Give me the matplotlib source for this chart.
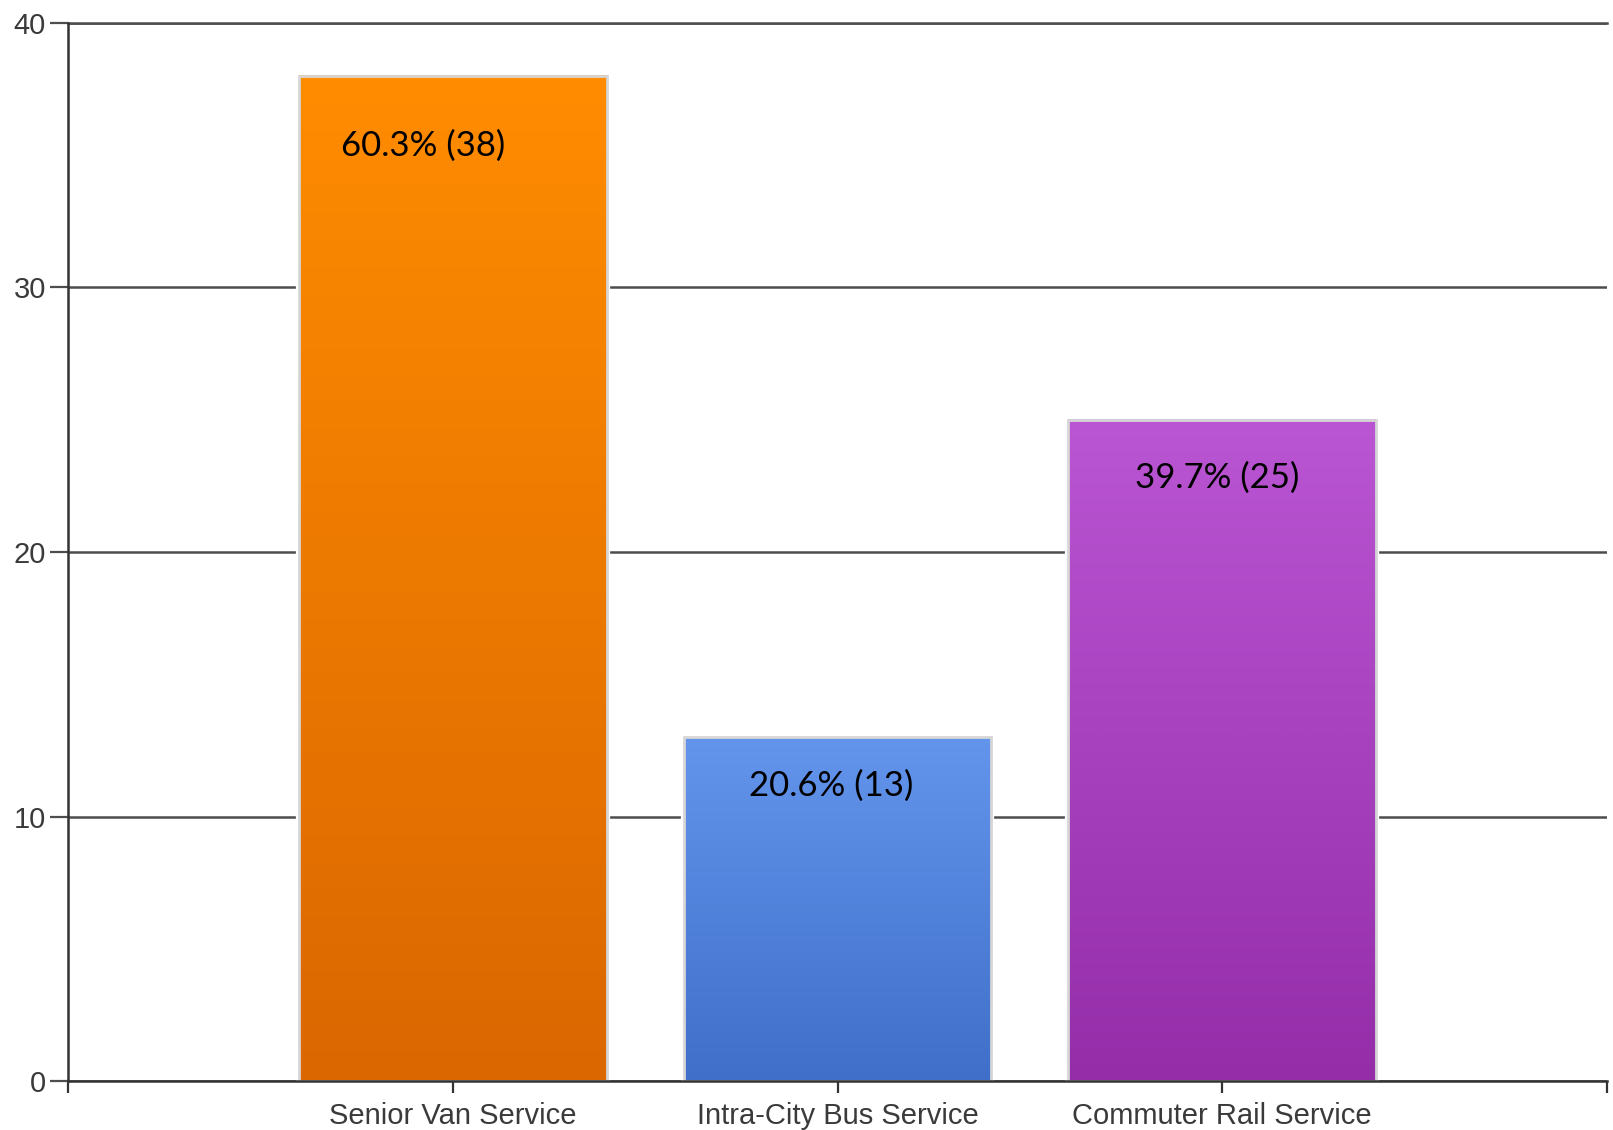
import numpy as np
import matplotlib
matplotlib.use("Agg")
import matplotlib.pyplot as plt
from matplotlib.colors import to_rgb

# Survey responses by transit service
categories = ["Senior Van Service", "Intra-City Bus Service", "Commuter Rail Service"]
counts = [38, 13, 25]
percents = [60.3, 20.6, 39.7]
y_ticks = [0, 10, 20, 30, 40]

# Vertical gradient colours (top, bottom) for each bar
top_colors = ["#FF8C00", "#6495ED", "#BA55D3"]
bottom_colors = ["#DA6700", "#3F6FC8", "#952DA9"]

# Label placement tweaks in pixels (dx, dy from bar top)
label_dx = [-30, -6, -5]
label_dy = [-70, -49, -58]

fig = plt.figure(figsize=(16.13, 11.30), dpi=100)
ax = fig.add_axes([68 / 1613, 1 - 1081 / 1130, (1607 - 68) / 1613, (1081 - 23) / 1130])

positions = np.arange(1, len(categories) + 1)
bar_w = 0.8

grid_color = "#4d4d4d"
ax.set_axisbelow(True)
ax.yaxis.grid(True, color=grid_color, linewidth=1.8)
ax.xaxis.grid(False)

# White halo that breaks the gridlines around each bar
ax.bar(positions, counts, width=bar_w, color="white", edgecolor="white",
       linewidth=4.5, zorder=2)

# Gradient fill for each bar
for x, v, ct, cb in zip(positions, counts, top_colors, bottom_colors):
    t = np.linspace(0, 1, 256)[:, None]
    c0 = np.array(to_rgb(ct))
    c1 = np.array(to_rgb(cb))
    grad = (c0 * (1 - t) + c1 * t)[:, None, :]
    ax.imshow(grad, extent=[x - bar_w / 2, x + bar_w / 2, 0, v],
              aspect="auto", origin="upper", zorder=3, interpolation="bilinear")

# Light grey outline
ax.bar(positions, counts, width=bar_w, fill=False, edgecolor="#d6d6d6",
       linewidth=2, zorder=4)

for x, v, p, dx, dy in zip(positions, counts, percents, label_dx, label_dy):
    ax.annotate(f"{p:.1f}% ({v})", xy=(x, v), xytext=(dx / 1.389, dy / 1.389),
                textcoords="offset points", ha="center", va="center",
                fontsize=25, family=["Lato", "DejaVu Sans"], color="black",
                zorder=5)

ax.set_xlim(0, 4)
ax.set_ylim(0, 40)
ax.set_yticks(y_ticks)
ax.set_yticklabels([str(v) for v in y_ticks])
ax.set_xticks([0] + list(positions) + [4])
ax.set_xticklabels([""] + categories + [""])

label_font = dict(family=["Liberation Sans", "DejaVu Sans"], size=21, color="#3a3a3a")
for lbl in ax.get_xticklabels() + ax.get_yticklabels():
    lbl.set_fontfamily(label_font["family"])
    lbl.set_fontsize(label_font["size"])
    lbl.set_color(label_font["color"])

ax.tick_params(axis="y", length=13, width=1.6, color=grid_color, pad=3)
ax.tick_params(axis="x", length=8.5, width=1.6, color="#333333", pad=6.5)

ax.spines["right"].set_visible(False)
ax.spines["top"].set_color(grid_color)
ax.spines["top"].set_linewidth(1.8)
for s in ("left", "bottom"):
    ax.spines[s].set_color("#333333")
    ax.spines[s].set_linewidth(1.8)
    ax.spines[s].set_zorder(6)

fig.savefig("out.png", dpi=100, facecolor="white")
